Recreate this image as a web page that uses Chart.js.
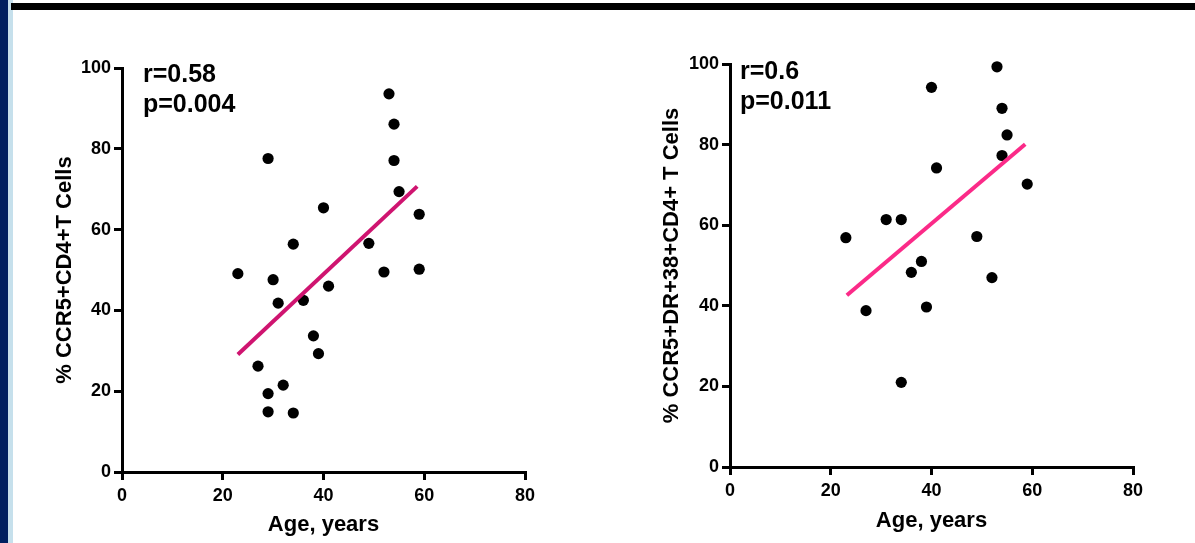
<!DOCTYPE html>
<html>
<head>
<meta charset="utf-8">
<script src="https://cdn.jsdelivr.net/npm/chart.js@4.4.1/dist/chart.umd.min.js"></script>
<style>
  body { margin: 0; width: 1195px; height: 543px; background: #fff; position: relative; overflow: hidden; }
  .navy { position: absolute; left: 0; top: 0; width: 8px; height: 543px; background: #002060; }
  .pale { position: absolute; left: 8px; top: 0; width: 5px; height: 543px; background: #c6e0ec; }
  .topbar { position: absolute; left: 11px; top: 3px; right: 0; height: 7px; background: #000; }
  .box { position: absolute; top: 0; }
</style>
</head>
<body>
<div class="navy"></div>
<div class="pale"></div>
<div class="topbar"></div>
<div class="box" style="left:0"><canvas id="chartLeft" width="600" height="543"></canvas></div>
<div class="box" style="left:600px"><canvas id="chartRight" width="595" height="543"></canvas></div>
<script>
// left panel: CCR5+CD4+ T cells vs age
const ageLeft = [23, 29, 30, 31, 34, 36, 40, 41, 38, 39, 27, 29, 32, 29, 34, 49, 52, 53, 54, 54, 55, 59, 59];
const ccr5Left = [49.1, 77.6, 47.6, 41.8, 56.4, 42.5, 65.4, 46.0, 33.7, 29.3, 26.2, 19.4, 21.5, 14.9, 14.6, 56.6, 49.5, 93.6, 86.1, 77.1, 69.4, 63.8, 50.2];
const fitLeftX = [23, 58.6];
const fitLeftY = [29.1, 70.7];

// right panel: CCR5+DR+38+CD4+ T cells vs age
const ageRight = [23, 27, 31, 34, 34, 36, 38, 39, 40, 41, 49, 52, 53, 54, 54, 55, 59];
const ccr5Right = [56.9, 38.8, 61.4, 61.4, 21.0, 48.3, 51.0, 39.7, 94.2, 74.2, 57.2, 47.0, 99.3, 89.0, 77.3, 82.4, 70.2];
const fitRightX = [23.2, 58.6];
const fitRightY = [42.6, 80.1];

const xTicks = [0, 20, 40, 60, 80];
const yTicks = [0, 20, 40, 60, 80, 100];

const fontFamily = "'Liberation Sans', Arial, sans-serif";

function toPoints(xs, ys) {
  return xs.map((x, i) => ({ x: x, y: ys[i] }));
}

// writes the r / p values in the top left corner of the plot area
const statsText = {
  id: "statsText",
  afterDraw(chart, args, opts) {
    const ctx = chart.ctx;
    const area = chart.chartArea;
    ctx.save();
    ctx.fillStyle = "#000";
    ctx.font = "bold 25px " + fontFamily;
    ctx.textBaseline = "alphabetic";
    ctx.textAlign = "left";
    opts.lines.forEach((line, i) => {
      ctx.fillText(line, area.left + opts.dx, area.top + opts.dy + i * opts.gap);
    });
    ctx.restore();
  },
};

function makeChart(id, cfg) {
  const ctx = document.getElementById(id);
  return new Chart(ctx, {
    type: "scatter",
    data: {
      datasets: [
        {
          type: "line",
          data: toPoints(cfg.fitX, cfg.fitY),
          borderColor: cfg.lineColor,
          borderWidth: 4,
          pointRadius: 0,
          fill: false,
          order: 0,
          clip: false,
        },
        {
          data: toPoints(cfg.xs, cfg.ys),
          backgroundColor: "#000",
          borderColor: "#000",
          borderWidth: 0,
          pointRadius: 5.6,
          pointHoverRadius: 5.6,
          order: 1,
          clip: false,
        },
      ],
    },
    plugins: [statsText],
    options: {
      responsive: false,
      animation: false,
      layout: { padding: cfg.padding },
      plugins: {
        legend: { display: false },
        tooltip: { enabled: false },
        statsText: cfg.stats,
      },
      scales: {
        x: {
          type: "linear",
          min: xTicks[0],
          max: xTicks[xTicks.length - 1],
          afterFit: (scale) => { scale.height = cfg.xHeight; },
          afterBuildTicks: (scale) => { scale.ticks = xTicks.map((v) => ({ value: v })); },
          border: { display: true, color: "#000", width: 3 },
          grid: { drawOnChartArea: false, drawTicks: true, tickLength: 8, color: "#000", lineWidth: 3 },
          ticks: { color: "#000", padding: 5, font: { family: fontFamily, size: 18, weight: "bold" } },
          title: {
            display: true,
            text: "Age, years",
            color: "#000",
            padding: { top: 0, bottom: cfg.xTitlePad },
            font: { family: fontFamily, size: 22, weight: "bold" },
          },
        },
        y: {
          type: "linear",
          min: yTicks[0],
          max: yTicks[yTicks.length - 1],
          afterFit: (scale) => { scale.width = cfg.yWidth; },
          afterBuildTicks: (scale) => { scale.ticks = yTicks.map((v) => ({ value: v })); },
          border: { display: true, color: "#000", width: 3 },
          grid: { drawOnChartArea: false, drawTicks: true, tickLength: 8, color: "#000", lineWidth: 3 },
          ticks: { color: "#000", padding: 3, font: { family: fontFamily, size: 18, weight: "bold" } },
          title: {
            display: true,
            text: cfg.yTitle,
            color: "#000",
            padding: { top: cfg.yTitlePad, bottom: 0 },
            font: { family: fontFamily, size: 22, weight: "bold" },
          },
        },
      },
    },
  });
}

makeChart("chartLeft", {
  xs: ageLeft,
  ys: ccr5Left,
  fitX: fitLeftX,
  fitY: fitLeftY,
  lineColor: "#cf1470",
  yTitle: "% CCR5+CD4+T Cells",
  padding: { left: 46, top: 68, right: 75, bottom: 0 },
  yWidth: 76,
  xHeight: 71,
  yTitlePad: 6,
  xTitlePad: 5,
  stats: { lines: ["r=0.58", "p=0.004"], dx: 21, dy: 14, gap: 30 },
});

makeChart("chartRight", {
  xs: ageRight,
  ys: ccr5Right,
  fitX: fitRightX,
  fitY: fitRightY,
  lineColor: "#fb2a88",
  yTitle: "% CCR5+DR+38+CD4+ T Cells",
  padding: { left: 54, top: 64, right: 62, bottom: 0 },
  yWidth: 76,
  xHeight: 76,
  yTitlePad: 5,
  xTitlePad: 9,
  stats: { lines: ["r=0.6", "p=0.011"], dx: 10, dy: 15, gap: 30 },
});
</script>
</body>
</html>
